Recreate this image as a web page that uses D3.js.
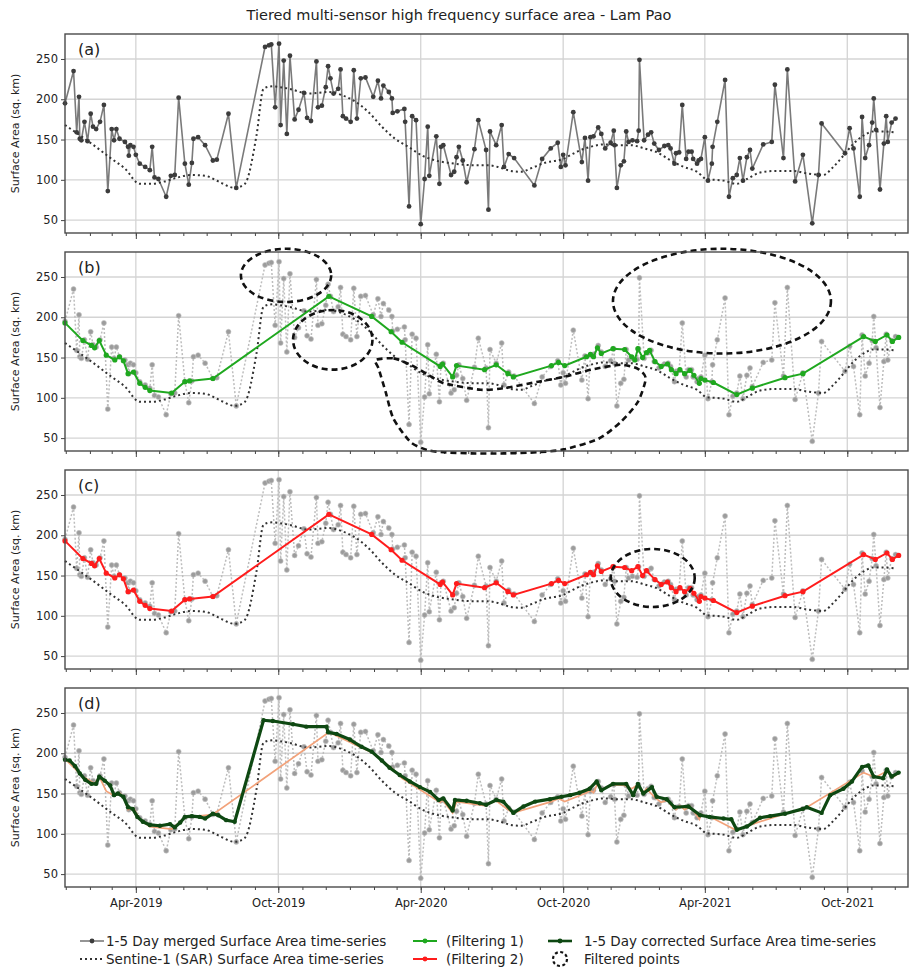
<!DOCTYPE html>
<html lang="en">
<head>
<meta charset="UTF-8">
<title>Tiered multi-sensor high frequency surface area - Lam Pao</title>
<script src="https://d3js.org/d3.v7.min.js"></script>
<style>
    body { margin: 0; background: #fff; }
    svg text { font-family: "DejaVu Sans", sans-serif; fill: #222; }
    .axis path { display: none; }
    .axis line { stroke: #444; }
    .axis text { font-size: 11.5px; }
</style>
</head>
<body>
<svg id="chart" width="910" height="968"></svg>
<script>
    // 1-5 day merged surface area (sq. km)
    var mergedSeries = [
        ["2018-12-31",195],["2019-01-11",235],["2019-01-15",159],["2019-01-18",203],["2019-01-19",151],["2019-01-21",149],
        ["2019-01-25",172],["2019-01-29",148],["2019-02-02",182],["2019-02-05",166],["2019-02-09",163],["2019-02-14",172],
        ["2019-02-19",193],["2019-02-24",86],["2019-03-01",163],["2019-03-04",149],["2019-03-07",163],["2019-03-11",151],
        ["2019-03-18",147],["2019-03-22",141],["2019-03-23",130],["2019-03-25",143],["2019-03-29",141],["2019-04-01",131],
        ["2019-04-06",120],["2019-04-13",116],["2019-04-19",112],["2019-04-22",141],["2019-04-25",103],["2019-04-30",101],
        ["2019-05-10",79],["2019-05-16",105],["2019-05-21",106],["2019-05-26",202],["2019-06-03",120],["2019-06-08",94],
        ["2019-06-12",121],["2019-06-14",151],["2019-06-20",153],["2019-06-29",143],["2019-07-09",124],["2019-07-14",125],
        ["2019-07-29",182],["2019-08-08",90],["2019-09-14",265],["2019-09-19",267],["2019-09-22",268],["2019-09-27",190],
        ["2019-10-02",269],["2019-10-04",168],["2019-10-08",248],["2019-10-12",157],["2019-10-16",254],["2019-10-22",175],
        ["2019-10-27",187],["2019-11-03",208],["2019-11-07",177],["2019-11-12",173],["2019-11-19",247],["2019-11-21",190],
        ["2019-11-26",192],["2019-12-01",215],["2019-12-04",241],["2019-12-07",226],["2019-12-11",207],["2019-12-17",213],
        ["2019-12-20",237],["2019-12-23",179],["2019-12-27",176],["2020-01-02",172],["2020-01-06",236],["2020-01-10",176],
        ["2020-01-15",226],["2020-01-21",227],["2020-01-31",203],["2020-02-06",223],["2020-02-10",201],["2020-02-13",217],
        ["2020-02-20",209],["2020-02-24",201],["2020-02-25",183],["2020-03-02",185],["2020-03-11",188],["2020-03-12",172],
        ["2020-03-17",67],["2020-03-21",179],["2020-03-26",174],["2020-04-01",45],["2020-04-06",101],["2020-04-10",166],
        ["2020-04-12",105],["2020-04-21",154],["2020-04-25",95],["2020-04-27",141],["2020-04-30",143],["2020-05-10",106],
        ["2020-05-14",110],["2020-05-17",128],["2020-05-20",141],["2020-05-25",124],["2020-05-30",97],["2020-06-09",138],
        ["2020-06-14",174],["2020-06-24",137],["2020-06-27",63],["2020-06-29",160],["2020-07-07",143],["2020-07-14",168],
        ["2020-07-17",116],["2020-07-23",132],["2020-07-30",127],["2020-08-25",93],["2020-09-04",126],["2020-09-15",139],
        ["2020-09-24",146],["2020-09-28",116],["2020-10-01",131],["2020-10-04",118],["2020-10-14",184],["2020-10-25",122],
        ["2020-10-29",152],["2020-11-02",99],["2020-11-05",153],["2020-11-09",154],["2020-11-15",165],["2020-11-19",157],
        ["2020-11-24",139],["2020-12-01",146],["2020-12-05",161],["2020-12-06",143],["2020-12-09",90],["2020-12-14",118],
        ["2020-12-18",123],["2020-12-21",160],["2020-12-24",147],["2020-12-29",149],["2021-01-04",148],["2021-01-06",161],
        ["2021-01-07",249],["2021-01-13",149],["2021-01-18",156],["2021-01-22",159],["2021-01-26",145],["2021-02-01",137],
        ["2021-02-08",142],["2021-02-13",143],["2021-02-16",139],["2021-02-21",120],["2021-02-23",133],["2021-02-27",134],
        ["2021-03-03",193],["2021-03-08",126],["2021-03-11",135],["2021-03-15",135],["2021-03-17",126],["2021-03-22",120],
        ["2021-03-24",124],["2021-03-27",126],["2021-04-01",153],["2021-04-05",99],["2021-04-10",120],["2021-04-11",141],
        ["2021-04-17",172],["2021-04-27",224],["2021-05-02",79],["2021-05-07",102],["2021-05-12",106],["2021-05-16",127],
        ["2021-05-20",99],["2021-05-25",128],["2021-05-29",137],["2021-06-01",114],["2021-06-15",144],["2021-06-26",147],
        ["2021-06-30",218],["2021-07-11",127],["2021-07-16",237],["2021-07-26",98],["2021-08-05",131],["2021-08-17",46],
        ["2021-08-25",106],["2021-08-29",170],["2021-09-28",133],["2021-10-04",164],["2021-10-09",139],["2021-10-17",79],
        ["2021-10-20",178],["2021-10-24",127],["2021-10-29",143],["2021-11-02",171],["2021-11-04",201],["2021-11-07",162],
        ["2021-11-12",88],["2021-11-17",145],["2021-11-20",179],["2021-11-22",147],["2021-11-27",171],["2021-12-02",176]
    ];

    // Sentinel-1 (SAR) surface area
    var sarSeries = [
        ["2018-12-31",168],["2019-02-03",145],["2019-03-01",126],["2019-03-18",114],["2019-04-06",95],["2019-04-21",95],
        ["2019-05-08",98],["2019-05-25",103],["2019-06-11",106],["2019-06-29",105],["2019-07-16",98],["2019-08-06",90],
        ["2019-08-19",95],["2019-09-03",155],["2019-09-12",213],["2019-09-22",216],["2019-10-15",213],["2019-11-09",207],
        ["2019-12-05",209],["2019-12-22",205],["2020-01-08",197],["2020-01-25",184],["2020-02-11",166],["2020-02-28",151],
        ["2020-03-16",141],["2020-04-03",130],["2020-04-20",124],["2020-05-07",121],["2020-05-24",119],["2020-06-10",118],
        ["2020-06-27",118],["2020-07-09",116],["2020-07-26",111],["2020-08-08",110],["2020-08-20",114],["2020-09-07",121],
        ["2020-10-01",126],["2020-10-19",135],["2020-11-05",141],["2020-11-23",144],["2020-12-10",143],["2020-12-27",143],
        ["2021-01-13",139],["2021-01-30",134],["2021-02-16",124],["2021-03-05",116],["2021-03-22",110],["2021-04-03",101],
        ["2021-04-25",99],["2021-05-12",95],["2021-05-25",101],["2021-06-11",109],["2021-07-02",111],["2021-07-24",111],
        ["2021-08-10",108],["2021-08-31",106],["2021-09-13",116],["2021-09-26",130],["2021-10-09",145],["2021-10-22",155],
        ["2021-11-03",160],["2021-11-16",160],["2021-12-01",159]
    ];

    // Filtering 1
    var filter1Series = [
        ["2018-12-31",193],["2019-01-23",171],["2019-02-03",165],["2019-02-07",162],["2019-02-13",171],["2019-02-22",153],
        ["2019-03-05",147],["2019-03-11",151],["2019-03-16",146],["2019-03-22",130],["2019-03-29",132],["2019-04-06",118],
        ["2019-04-13",113],["2019-04-19",109],["2019-05-17",106],["2019-06-03",120],["2019-06-09",121],["2019-07-09",124],
        ["2019-12-05",226],["2020-01-29",201],["2020-02-23",182],["2020-03-08",169],["2020-04-26",139],["2020-04-29",142],
        ["2020-05-12",126],["2020-05-17",140],["2020-06-22",135],["2020-07-07",141],["2020-07-22",130],["2020-07-29",126],
        ["2020-09-16",140],["2020-09-25",144],["2020-10-03",140],["2020-10-31",151],["2020-11-05",154],["2020-11-09",151],
        ["2020-11-14",162],["2020-11-19",155],["2020-12-04",161],["2020-12-19",160],["2020-12-28",151],["2021-01-01",147],
        ["2021-01-05",161],["2021-01-11",150],["2021-01-16",156],["2021-01-20",159],["2021-01-27",145],["2021-02-04",139],
        ["2021-02-12",142],["2021-02-17",135],["2021-02-23",130],["2021-02-28",135],["2021-03-06",130],["2021-03-13",134],
        ["2021-03-18",128],["2021-03-25",118],["2021-03-27",124],["2021-04-01",122],["2021-04-12",119],["2021-05-12",104],
        ["2021-06-01",112],["2021-07-13",125],["2021-08-05",130],["2021-10-22",176],["2021-11-06",170],["2021-11-21",178],
        ["2021-11-28",170],["2021-12-06",175]
    ];

    // Filtering 2
    var filter2Series = [
        ["2018-12-31",193],["2019-01-23",171],["2019-02-03",165],["2019-02-07",162],["2019-02-13",171],["2019-02-22",153],
        ["2019-03-05",147],["2019-03-11",151],["2019-03-16",146],["2019-03-22",130],["2019-03-29",132],["2019-04-06",118],
        ["2019-04-13",113],["2019-04-19",109],["2019-05-17",106],["2019-06-03",120],["2019-06-09",121],["2019-07-09",124],
        ["2019-12-05",226],["2020-01-29",201],["2020-02-23",182],["2020-03-08",169],["2020-04-26",139],["2020-04-29",142],
        ["2020-05-12",126],["2020-05-17",140],["2020-06-22",135],["2020-07-07",141],["2020-07-22",130],["2020-07-29",126],
        ["2020-09-16",140],["2020-09-25",144],["2020-10-03",140],["2020-10-31",151],["2020-11-05",154],["2020-11-09",151],
        ["2020-11-14",162],["2020-11-19",155],["2020-12-04",161],["2020-12-19",160],["2020-12-28",156],["2021-01-05",161],
        ["2021-01-11",150],["2021-01-16",156],["2021-01-27",145],["2021-02-04",139],
        ["2021-02-12",142],["2021-02-17",135],["2021-02-23",130],["2021-02-28",135],["2021-03-06",130],["2021-03-13",134],
        ["2021-03-18",128],["2021-03-25",118],["2021-03-27",124],["2021-04-01",122],["2021-04-12",119],["2021-05-12",104],
        ["2021-06-01",112],["2021-07-13",125],["2021-08-05",130],["2021-10-22",176],["2021-11-06",170],["2021-11-21",178],
        ["2021-11-28",170],["2021-12-06",175]
    ];

    // 1-5 day corrected surface area
    var correctedSeries = [
        ["2018-12-31",192],["2019-01-06",191],["2019-01-13",184],["2019-01-19",175],["2019-01-26",167],["2019-02-03",162],
        ["2019-02-09",162],["2019-02-13",171],["2019-02-20",166],["2019-02-27",160],["2019-03-04",148],["2019-03-09",150],
        ["2019-03-16",146],["2019-03-22",133],["2019-03-28",131],["2019-04-03",121],["2019-04-10",115],["2019-04-19",111],
        ["2019-05-02",110],["2019-05-15",112],["2019-05-21",108],["2019-05-28",114],["2019-06-03",121],["2019-06-12",122],
        ["2019-06-22",121],["2019-06-29",119],["2019-07-09",125],["2019-07-16",123],["2019-07-26",117],["2019-08-06",115],
        ["2019-09-12",241],["2019-09-24",240],["2019-10-20",236],["2019-11-06",233],["2019-12-02",233],["2019-12-04",226],
        ["2019-12-15",224],["2020-01-01",217],["2020-01-16",208],["2020-01-29",202],["2020-02-11",191],["2020-02-21",182],
        ["2020-03-05",173],["2020-03-18",165],["2020-03-31",158],["2020-04-13",152],["2020-04-24",142],["2020-04-30",144],
        ["2020-05-12",129],["2020-05-15",142],["2020-05-30",141],["2020-06-16",138],["2020-06-24",136],["2020-07-07",142],
        ["2020-07-16",140],["2020-07-29",126],["2020-08-11",134],["2020-08-26",140],["2020-09-14",143],["2020-09-29",146],
        ["2020-10-10",148],["2020-10-22",151],["2020-11-04",156],["2020-11-13",165],["2020-11-19",154],["2020-12-04",162],
        ["2020-12-21",162],["2020-12-30",148],["2021-01-05",162],["2021-01-12",150],["2021-01-23",158],["2021-01-29",146],
        ["2021-02-11",143],["2021-02-21",133],["2021-03-11",134],["2021-03-26",123],["2021-04-07",121],["2021-04-25",119],
        ["2021-05-05",118],["2021-05-12",105],["2021-05-25",109],["2021-06-11",120],["2021-06-24",122],["2021-07-13",125],
        ["2021-08-05",131],["2021-08-10",133],["2021-08-29",126],["2021-09-09",148],["2021-09-26",156],["2021-10-07",165],
        ["2021-10-20",183],["2021-10-28",185],["2021-11-04",171],["2021-11-16",169],["2021-11-21",180],["2021-11-27",171],
        ["2021-12-06",176]
    ];

    // dashed "filtered points" outlines, in date / sq. km units
    var filteredEllipses = [
        { panel: 1, date: "2019-10-11", value: 252, days: 58, area: 33 },
        { panel: 1, date: "2019-12-10", value: 172, days: 51, area: 37 },
        { panel: 1, date: "2021-04-23", value: 220, days: 140, area: 65 },
        { panel: 2, date: "2021-01-24", value: 147, days: 54, area: 36 }
    ];
    var filteredLasso = [
        ["2020-02-03",147],["2020-02-26",149],["2020-03-19",141],["2020-04-10",129],["2020-05-01",118],["2020-06-17",110],
        ["2020-07-17",112],["2020-08-30",120],["2020-10-02",126],["2020-11-06",135],["2020-12-14",141],["2021-01-05",136],
        ["2021-01-15",124],["2021-01-05",95],["2020-12-14",70],["2020-11-15",49],["2020-10-02",36],["2020-08-30",32.5],
        ["2020-07-17",31],["2020-06-05",31],["2020-05-01",32.5],["2020-04-10",35],["2020-03-19",45],["2020-02-26",74],
        ["2020-02-16",107],["2020-02-07",136]
    ];

    var yTicks = [50, 100, 150, 200, 250];
    var panelLetters = ["(a)", "(b)", "(c)", "(d)"];
    var legendRow1 = ["1-5 Day merged Surface Area time-series", "(Filtering 1)", "1-5 Day corrected Surface Area time-series"];
    var legendRow2 = ["Sentine-1 (SAR) Surface Area time-series", "(Filtering 2)", "Filtered points"];

    var parseDate = d3.timeParse("%Y-%m-%d");
    function toPoints(arr) { return arr.map(d => ({ date: parseDate(d[0]), value: d[1] })); }
    var merged = toPoints(mergedSeries), sar = toPoints(sarSeries), f1 = toPoints(filter1Series),
        f2 = toPoints(filter2Series), corrected = toPoints(correctedSeries), lasso = toPoints(filteredLasso);

    var svg = d3.select("#chart");
    var plotLeft = 65, plotRight = 908, panelH = 199;
    var panelTops = [34, 252, 470, 688];

    var x = d3.scaleTime().domain([parseDate("2018-12-31"), parseDate("2021-12-18")]).range([plotLeft, plotRight]);
    var y = d3.scaleLinear().domain([34, 281]).range([panelH, 0]);

    var months = d3.timeMonth.range(parseDate("2019-01-01"), parseDate("2021-12-18"));
    var majors = months.filter(m => m.getMonth() === 3 || m.getMonth() === 9);
    var fmt = d3.timeFormat("%b-%Y");

    var line = d3.line().x(d => x(d.date)).y(d => y(d.value));
    var smooth = d3.line().x(d => x(d.date)).y(d => y(d.value)).curve(d3.curveMonotoneX);

    svg.append("text").attr("x", 459).attr("y", 20).attr("text-anchor", "middle")
        .style("font-size", "14.5px").text("Tiered multi-sensor high frequency surface area - Lam Pao");

    panelTops.forEach((top, i) => {
        var g = svg.append("g").attr("transform", "translate(0," + top + ")");

        // grid
        g.selectAll(".hg").data(yTicks).enter().append("line")
            .attr("x1", plotLeft).attr("x2", plotRight).attr("y1", d => y(d)).attr("y2", d => y(d))
            .attr("stroke", "#d4d4d4").attr("stroke-width", 1.3);
        g.selectAll(".vg").data(majors).enter().append("line")
            .attr("x1", d => x(d)).attr("x2", d => x(d)).attr("y1", 0).attr("y2", panelH)
            .attr("stroke", "#d4d4d4").attr("stroke-width", 1.3);

        // axes
        g.append("g").attr("class", "axis").attr("transform", "translate(" + plotLeft + ",0)")
            .call(d3.axisLeft(y).tickValues(yTicks).tickSize(4).tickPadding(3));
        g.append("g").attr("class", "axis").attr("transform", "translate(0," + panelH + ")")
            .call(d3.axisBottom(x).tickValues(months).tickSize(3).tickFormat(""));
        g.append("g").attr("class", "axis").attr("transform", "translate(0," + panelH + ")")
            .call(d3.axisBottom(x).tickValues(majors).tickSize(6).tickPadding(6).tickFormat(i === 3 ? fmt : ""));

        g.append("text").attr("transform", "translate(19," + (panelH / 2) + ") rotate(-90)")
            .attr("text-anchor", "middle").style("font-size", "11px").text("Surface Area (sq. km)");

        // merged series
        if (i === 0) {
            g.append("path").datum(merged).attr("d", line).attr("fill", "none")
                .attr("stroke", "#7a7a7a").attr("stroke-width", 1.6);
            g.selectAll(".mp").data(merged).enter().append("circle")
                .attr("cx", d => x(d.date)).attr("cy", d => y(d.value)).attr("r", 2.4).attr("fill", "#3c3c3c");
        } else {
            g.append("path").datum(merged).attr("d", line).attr("fill", "none")
                .attr("stroke", "#bdbdbd").attr("stroke-width", 1.5).attr("stroke-dasharray", "2,2");
            g.selectAll(".mp").data(merged).enter().append("circle")
                .attr("cx", d => x(d.date)).attr("cy", d => y(d.value)).attr("r", 2.5)
                .attr("fill", "#9c9c9c").attr("stroke", "#c4c4c4").attr("stroke-width", 0.6);
        }

        // SAR
        g.append("path").datum(sar).attr("d", smooth).attr("fill", "none")
            .attr("stroke", "#333").attr("stroke-width", 2).attr("stroke-dasharray", "2,3");

        if (i === 1 || i === 2) {
            var s = i === 1 ? f1 : f2, col = i === 1 ? "#1fa81f" : "#ff1c1c";
            g.append("path").datum(s).attr("d", line).attr("fill", "none").attr("stroke", col).attr("stroke-width", 2);
            g.selectAll(".fp").data(s).enter().append("circle")
                .attr("cx", d => x(d.date)).attr("cy", d => y(d.value)).attr("r", 2.6).attr("fill", col);
        }
        if (i === 3) {
            g.append("path").datum(f2).attr("d", line).attr("fill", "none").attr("stroke", "#f2a27a").attr("stroke-width", 1.7);
            g.append("path").datum(corrected).attr("d", line).attr("fill", "none")
                .attr("stroke", "#0e4812").attr("stroke-width", 3.2).attr("stroke-linejoin", "round");
            g.selectAll(".cp").data(corrected).enter().append("circle")
                .attr("cx", d => x(d.date)).attr("cy", d => y(d.value)).attr("r", 2.2).attr("fill", "#0e4812");
        }

        // filtered-point outlines
        filteredEllipses.filter(e => e.panel === i).forEach(e => {
            var c = parseDate(e.date);
            g.append("ellipse").attr("cx", x(c)).attr("cy", y(e.value))
                .attr("rx", x(d3.timeDay.offset(c, e.days)) - x(c))
                .attr("ry", y(e.value - e.area) - y(e.value))
                .attr("fill", "none").attr("stroke", "#111").attr("stroke-width", 2.6).attr("stroke-dasharray", "6,4");
        });
        if (i === 1) {
            g.append("path").datum(lasso)
                .attr("d", d3.line().x(d => x(d.date)).y(d => y(d.value)).curve(d3.curveCardinalClosed.tension(0.3)))
                .attr("fill", "none").attr("stroke", "#111").attr("stroke-width", 2.6).attr("stroke-dasharray", "6,4");
        }

        // frame
        g.append("rect").attr("x", plotLeft).attr("y", 0).attr("width", plotRight - plotLeft).attr("height", panelH)
            .attr("fill", "none").attr("stroke", "#4a4a4a").attr("stroke-width", 1.4);

        g.append("text").attr("x", 78).attr("y", 21).style("font-size", "16px").text(panelLetters[i]);
    });

    // legend
    var lg = svg.append("g");
    var cols = [80, 413, 548];
    var rowY = [941, 959];
    function sampleLine(xs, yy, col, dash, w) {
        lg.append("line").attr("x1", xs).attr("x2", xs + 24).attr("y1", yy).attr("y2", yy)
            .attr("stroke", col).attr("stroke-width", w).attr("stroke-dasharray", dash);
    }
    function sampleDot(xs, yy, col) {
        lg.append("circle").attr("cx", xs + 12).attr("cy", yy).attr("r", 2.4).attr("fill", col);
    }
    sampleLine(cols[0], rowY[0], "#7a7a7a", null, 1.6); sampleDot(cols[0], rowY[0], "#3c3c3c");
    sampleLine(cols[1], rowY[0], "#1fa81f", null, 2); sampleDot(cols[1], rowY[0], "#1fa81f");
    sampleLine(cols[2], rowY[0], "#0e4812", null, 2.6); sampleDot(cols[2], rowY[0], "#0e4812");
    sampleLine(cols[0], rowY[1], "#333", "2,3", 2);
    sampleLine(cols[1], rowY[1], "#ff1c1c", null, 2); sampleDot(cols[1], rowY[1], "#ff1c1c");
    lg.append("circle").attr("cx", cols[2] + 12).attr("cy", rowY[1]).attr("r", 7)
        .attr("fill", "none").attr("stroke", "#111").attr("stroke-width", 2.2).attr("stroke-dasharray", "3,2.5");

    var textX = [106, 446, 584];
    legendRow1.forEach((t, k) => lg.append("text").attr("x", textX[k]).attr("y", rowY[0] + 5).style("font-size", "13.5px").text(t));
    legendRow2.forEach((t, k) => lg.append("text").attr("x", textX[k]).attr("y", rowY[1] + 5).style("font-size", "13.5px").text(t));
</script>
</body>
</html>
